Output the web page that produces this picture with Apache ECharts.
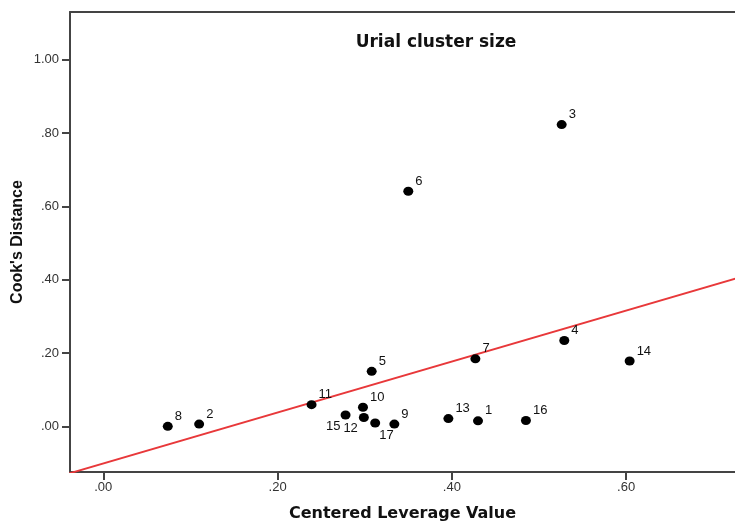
<!DOCTYPE html>
<html>
<head>
<meta charset="utf-8">
<script src="https://cdn.jsdelivr.net/npm/echarts@6/dist/echarts.min.js"></script>
<style>
  html, body { margin: 0; padding: 0; background: #fff; }
  #chart { width: 735px; height: 524px; }
</style>
</head>
<body>
<div id="chart"></div>
<script>
  // case numbers and their values
  var caseIds  = ['8', '2', '11', '15', '10', '12', '17', '9', '5', '6', '13', '1', '7', '16', '3', '4', '14']
  var leverage = [0.074, 0.110, 0.239, 0.278, 0.298, 0.299, 0.312, 0.334, 0.308, 0.350, 0.396, 0.430, 0.427, 0.485, 0.526, 0.529, 0.604]
  var cooks    = [0.000, 0.006, 0.059, 0.031, 0.052, 0.024, 0.009, 0.006, 0.150, 0.641, 0.021, 0.015, 0.184, 0.016, 0.823, 0.234, 0.178]

  // fit line end points (x, y)
  var fitX = [-0.04, 0.73]
  var fitY = [-0.129, 0.406]

  var xTicks = [0, 0.2, 0.4, 0.6]
  var yTicks = [0, 0.2, 0.4, 0.6, 0.8, 1.0]

  var fmt = function (v) {
    var s = v.toFixed(2)
    return s.charAt(0) === '0' ? s.slice(1) : s
  }

  // a few labels sit below / left of their point
  var labelTweak = {
    '15': { position: 'left', distance: 0, offset: [0, 11] },
    '12': { position: 'left', distance: 1, offset: [0, 11] },
    '17': { position: 'right', distance: -1, offset: [0, 12] }
  }

  var points = caseIds.map(function (id, i) {
    var item = { value: [leverage[i], cooks[i]], name: id }
    if (labelTweak[id]) item.label = labelTweak[id]
    return item
  })

  var axisLine = { show: true, onZero: false, lineStyle: { color: '#444', width: 2 } }
  var font = 'Liberation Sans, Arial, sans-serif'
  var wide = 'DejaVu Sans, sans-serif'

  var chart = echarts.init(document.getElementById('chart'))
  chart.setOption({
    animation: false,
    title: {
      text: 'Urial cluster size',
      left: 431,
      top: 29,
      textAlign: 'center',
      textStyle: { fontFamily: wide, fontSize: 17, fontWeight: 'bold', color: '#111' }
    },
    grid: { left: 70, top: 12, right: 0, bottom: 52, containLabel: false, outerBoundsMode: 'none' },
    xAxis: [{
      type: 'value',
      min: -0.0382,
      max: 0.7249,
      name: 'Centered Leverage Value',
      nameLocation: 'middle',
      nameGap: 34,
      nameTextStyle: { fontFamily: wide, fontSize: 16, fontWeight: 'bold', color: '#111' },
      splitLine: { show: false },
      axisLine: axisLine,
      axisTick: { show: true, length: 8, customValues: xTicks, lineStyle: { color: '#444', width: 2 } },
      axisLabel: {
        customValues: xTicks,
        formatter: fmt,
        fontFamily: font, fontSize: 13, color: '#333', margin: 9
      }
    }, {
      type: 'value',
      position: 'top',
      min: -0.0382,
      max: 0.7249,
      axisLine: axisLine,
      axisTick: { show: false },
      axisLabel: { show: false },
      splitLine: { show: false }
    }],
    yAxis: {
      type: 'value',
      min: -0.1246,
      max: 1.130,
      name: "Cook's Distance",
      nameLocation: 'middle',
      nameGap: 44,
      nameMoveOverlap: false,
      nameTextStyle: { fontFamily: font, fontSize: 16, fontWeight: 'bold', color: '#111' },
      splitLine: { show: false },
      axisLine: axisLine,
      axisTick: { show: true, length: 8, customValues: yTicks, lineStyle: { color: '#444', width: 2 } },
      axisLabel: {
        customValues: yTicks,
        formatter: fmt,
        fontFamily: font, fontSize: 13, color: '#333', margin: 11
      }
    },
    series: [{
      type: 'line',
      data: [[fitX[0], fitY[0]], [fitX[1], fitY[1]]],
      showSymbol: false,
      clip: true,
      lineStyle: { color: '#e8383a', width: 2 },
      z: 1
    }, {
      type: 'scatter',
      data: points,
      symbol: 'circle',
      symbolSize: [10, 9],
      itemStyle: { color: '#000', opacity: 1 },
      label: {
        show: true,
        position: 'right',
        distance: 2,
        offset: [0, -10],
        formatter: '{b}',
        fontFamily: font,
        fontSize: 13,
        color: '#111'
      },
      z: 2
    }]
  })
</script>
</body>
</html>
